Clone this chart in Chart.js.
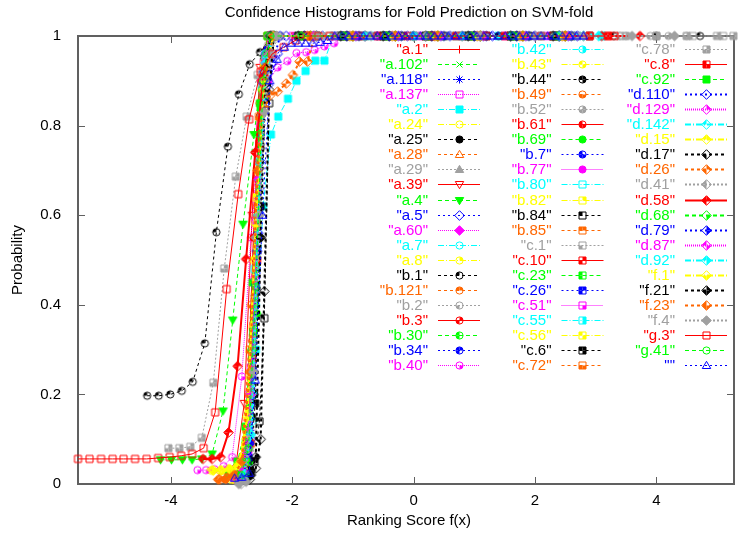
<!DOCTYPE html>
<html>
<head>
<meta charset="utf-8">
<script src="https://cdn.jsdelivr.net/npm/chart.js@4.4.1/dist/chart.umd.min.js"></script>
<style>
html, body { margin: 0; padding: 0; background: #fff; }
#wrap { width: 740px; height: 537px; }
</style>
</head>
<body>
<div id="wrap"><canvas id="chart" width="740" height="537"></canvas></div>
<script>
const names = ['a.1','a.102','a.118','a.137','a.2','a.24','a.25','a.28','a.29','a.39','a.4','a.5','a.60','a.7','a.8','b.1','b.121','b.2','b.3','b.30','b.34','b.40',
  'b.42','b.43','b.44','b.49','b.52','b.61','b.69','b.7','b.77','b.80','b.82','b.84','b.85','c.1','c.10','c.23','c.26','c.51','c.55','c.56','c.6','c.72',
  'c.78','c.8','c.92','d.110','d.129','d.142','d.15','d.17','d.26','d.41','d.58','d.68','d.79','d.87','d.92','f.1','f.21','f.23','f.4','g.3','g.41',''];

// ranking score bins per fold
const scoreX = [
  [-2.86,-2.74,-2.62,-2.50,-2.38,-1.9,-1.2,-0.5,0.2,0.9,1.6,2.3],
  [-2.92,-2.80,-2.68,-2.56,-2.44,-2.32,-1.7,-1.0,-0.3,0.4,1.1,1.8,2.5],
  [-2.80,-2.69,-2.58,-2.47,-2.36,-1.8,-1.2,-0.6,0.0,0.6,1.2,1.8,2.4],
  [-2.95,-2.83,-2.71,-2.59,-2.47,-2.35,-2.0,-1.3,-0.6,0.1,0.8,1.5,2.2],
  [-2.85,-2.72,-2.60,-2.48,-2.35,-2.23,-2.07,-1.93,-1.78,-1.62,-1.47,-1.32,-0.7,0.0,0.7,1.4,2.1,2.7,3.1],
  [-2.90,-2.78,-2.66,-2.54,-2.42,-2.30,-1.6,-0.9,-0.2,0.5,1.2,1.9,2.6],
  [-2.76,-2.66,-2.56,-2.46,-2.36,-1.75,-1.05,-0.35,0.35,1.05,1.75,2.45],
  [-3.00,-2.87,-2.74,-2.61,-2.48,-2.35,-1.65,-0.95,-0.25,0.45,1.15,1.85,2.55],
  [-2.82,-2.70,-2.58,-2.46,-2.34,-1.85,-1.15,-0.45,0.25,0.95,1.65,2.35],
  [-3.05,-2.92,-2.79,-2.66,-2.53,-2.40,-1.95,-1.25,-0.55,0.15,0.85,1.55,2.25],
  [-4.17,-3.99,-3.81,-3.65,-3.49,-3.32,-3.14,-2.98,-2.81,-2.63,-2.46,-2.29,-1.6,-0.9,-0.2,0.5,1.2,1.9,2.6],
  [-2.88,-2.76,-2.64,-2.52,-2.40,-2.24,-2.10,-1.5,-0.8,-0.1,0.6,1.3,2.0,2.7],
  [-2.84,-2.72,-2.60,-2.48,-2.36,-1.7,-1.0,-0.3,0.4,1.1,1.8,2.5],
  [-2.92,-2.80,-2.68,-2.56,-2.44,-2.32,-1.9,-1.2,-0.5,0.2,0.9,1.6,2.3],
  [-3.35,-3.20,-3.05,-2.90,-2.75,-2.60,-2.45,-2.30,-1.6,-0.9,-0.2,0.5,1.2,1.9,2.6],
  [-4.39,-4.20,-4.01,-3.82,-3.64,-3.44,-3.25,-3.06,-2.88,-2.70,-2.53,-2.34,-1.6,-0.6,0.4,1.4,2.4,3.3,4.0,4.72],
  [-2.95,-2.83,-2.71,-2.59,-2.47,-2.35,-1.8,-1.1,-0.4,0.3,1.0,1.7,2.4],
  [-2.80,-2.68,-2.56,-2.44,-2.32,-1.7,-0.8,0.1,1.0,1.9,2.8,3.4,3.9,4.5],
  [-2.90,-2.78,-2.66,-2.54,-2.42,-2.30,-1.65,-0.95,-0.25,0.45,1.15,1.85,2.55],
  [-2.86,-2.74,-2.62,-2.50,-2.38,-1.75,-1.05,-0.35,0.35,1.05,1.75,2.45],
  [-2.78,-2.67,-2.56,-2.45,-2.34,-1.9,-1.2,-0.5,0.2,0.9,1.6,2.3],
  [-3.56,-3.42,-3.28,-3.13,-2.99,-2.83,-2.68,-2.53,-2.39,-2.24,-2.08,-1.93,-1.77,-1.63,-1.47,-1.31,-1.16,-0.4,0.4,1.2,2.0,2.7],
  [-2.84,-2.72,-2.60,-2.48,-2.36,-1.8,-1.1,-0.4,0.3,1.0,1.7,2.4],
  [-3.00,-2.88,-2.76,-2.64,-2.52,-2.40,-1.85,-1.15,-0.45,0.25,0.95,1.65,2.35],
  [-2.72,-2.62,-2.52,-2.42,-2.32,-1.7,-1.0,-0.3,0.4,1.1,1.8,2.5],
  [-3.10,-2.96,-2.82,-2.68,-2.54,-2.40,-1.9,-1.2,-0.5,0.2,0.9,1.6,2.3],
  [-2.76,-2.64,-2.52,-2.40,-2.28,-1.5,-0.6,0.3,1.2,2.1,2.9,3.5,4.2],
  [-2.88,-2.76,-2.64,-2.52,-2.40,-1.75,-1.05,-0.35,0.35,1.05,1.75,2.45],
  [-2.82,-2.70,-2.58,-2.46,-2.34,-1.65,-0.95,-0.25,0.45,1.15,1.85,2.55],
  [-2.74,-2.63,-2.52,-2.41,-2.30,-1.8,-1.1,-0.4,0.3,1.0,1.7,2.4],
  [-2.96,-2.84,-2.72,-2.60,-2.48,-2.36,-1.95,-1.25,-0.55,0.15,0.85,1.55,2.25],
  [-2.86,-2.74,-2.62,-2.50,-2.38,-1.7,-1.0,-0.3,0.4,1.1,1.8,2.5],
  [-2.94,-2.82,-2.70,-2.58,-2.46,-2.34,-1.85,-1.15,-0.45,0.25,0.95,1.65,2.35],
  [-2.72,-2.62,-2.54,-2.46,-2.38,-2.30,-1.6,-0.9,-0.2,0.5,1.2,1.9,2.6],
  [-2.80,-2.68,-2.56,-2.44,-2.32,-1.75,-1.05,-0.35,0.35,1.05,1.75,2.45],
  [-2.78,-2.66,-2.54,-2.42,-2.30,-1.4,-0.4,0.6,1.6,2.6,3.4,4.0,4.6,5.1],
  [-2.90,-2.78,-2.66,-2.54,-2.42,-2.30,-1.6,-0.8,0.0,0.8,1.6,2.4,2.9,3.2],
  [-3.05,-2.90,-2.77,-2.65,-2.53,-2.41,-1.9,-1.2,-0.5,0.2,0.9,1.6,2.3],
  [-2.84,-2.72,-2.60,-2.48,-2.36,-1.85,-1.15,-0.45,0.25,0.95,1.65,2.35],
  [-2.92,-2.80,-2.68,-2.56,-2.44,-2.32,-1.7,-1.0,-0.3,0.4,1.1,1.8,2.5],
  [-2.76,-2.65,-2.54,-2.43,-2.32,-1.6,-0.8,0.0,0.8,1.6,2.4,2.9,3.1],
  [-2.98,-2.85,-2.72,-2.59,-2.46,-2.33,-1.75,-1.05,-0.35,0.35,1.05,1.75,2.45],
  [-2.70,-2.61,-2.52,-2.43,-2.34,-1.9,-1.2,-0.5,0.2,0.9,1.6,2.3],
  [-3.15,-3.00,-2.85,-2.70,-2.55,-2.40,-1.8,-1.1,-0.4,0.3,1.0,1.7,2.4],
  [-4.04,-3.86,-3.68,-3.49,-3.30,-3.12,-2.93,-2.75,-2.57,-2.38,-2.20,-1.3,-0.3,0.7,1.7,2.7,3.5,4.0,4.5,5.0,5.27],
  [-2.82,-2.70,-2.58,-2.46,-2.34,-1.7,-0.9,-0.1,0.7,1.5,2.3,2.9,3.2],
  [-2.88,-2.76,-2.64,-2.52,-2.40,-1.8,-1.1,-0.4,0.3,1.0,1.7,2.4],
  [-2.80,-2.68,-2.56,-2.44,-2.32,-2.20,-1.6,-0.9,-0.2,0.5,1.2,1.9,2.6],
  [-2.86,-2.74,-2.62,-2.50,-2.38,-1.75,-1.05,-0.35,0.35,1.05,1.75,2.45],
  [-2.78,-2.66,-2.54,-2.42,-2.30,-1.65,-0.95,-0.25,0.45,1.15,1.85,2.55],
  [-3.32,-3.18,-3.04,-2.90,-2.76,-2.62,-2.48,-2.34,-1.7,-1.0,-0.3,0.4,1.1,1.8,2.5],
  [-2.70,-2.60,-2.52,-2.46,-2.38,-2.30,-1.8,-1.1,-0.4,0.3,1.0,1.7,2.4],
  [-3.19,-3.07,-2.95,-2.83,-2.70,-2.58,-2.46,-2.36,-2.24,-2.10,-1.99,-1.88,-1.75,-1.63,-1.0,-0.3,0.4,1.1,1.8,2.5],
  [-2.84,-2.72,-2.60,-2.48,-2.36,-1.9,-1.2,-0.5,0.2,0.9,1.6,2.3],
  [-3.47,-3.32,-3.18,-3.05,-2.90,-2.76,-2.61,-2.47,-2.33,-1.6,-0.8,0.0,0.8,1.6,2.4,3.1,3.73],
  [-2.90,-2.78,-2.66,-2.54,-2.42,-2.30,-1.7,-1.0,-0.3,0.4,1.1,1.8,2.5],
  [-2.82,-2.70,-2.58,-2.46,-2.34,-1.8,-1.1,-0.4,0.3,1.0,1.7,2.4],
  [-2.92,-2.80,-2.68,-2.56,-2.44,-2.32,-1.65,-0.95,-0.25,0.45,1.15,1.85,2.55],
  [-2.80,-2.68,-2.56,-2.44,-2.32,-1.6,-0.8,0.0,0.8,1.6,2.4,2.8,3.05],
  [-3.30,-3.16,-3.02,-2.88,-2.74,-2.60,-2.46,-2.32,-1.75,-1.05,-0.35,0.35,1.05,1.75,2.45],
  [-2.68,-2.60,-2.52,-2.44,-2.36,-1.9,-1.2,-0.5,0.2,0.9,1.6,2.3],
  [-3.22,-3.09,-2.96,-2.83,-2.70,-2.57,-2.44,-2.31,-1.7,-1.0,-0.3,0.4,1.1,1.8,2.5],
  [-2.88,-2.76,-2.64,-2.54,-2.46,-2.36,-2.26,-1.6,-0.7,0.2,1.1,2.0,2.8,3.6,4.3],
  [-5.53,-5.34,-5.15,-4.96,-4.78,-4.59,-4.40,-4.21,-4.02,-3.83,-3.65,-3.46,-3.27,-3.08,-2.89,-2.71,-2.52,-2.33,-2.14,-1.95,-1.76,-1.57,-1.38,-0.6,0.3,1.2,2.1,2.9,3.31],
  [-2.84,-2.72,-2.60,-2.48,-2.36,-1.85,-1.15,-0.45,0.25,0.95,1.65,2.35],
  [-2.95,-2.83,-2.71,-2.61,-2.49,-2.37,-2.25,-2.13,-2.02,-1.90,-1.78,-1.66,-1.54,-1.42,-1.30,-1.18,-1.07,-0.95,-0.83,-0.72,-0.60,-0.48,-0.36,-0.25,
   -0.13,-0.01,0.11,0.22,0.34,0.46,0.57,0.69,0.81,0.93,1.04,1.16,1.28,1.39,1.51,1.63,1.75,1.86,1.98,2.10,2.21,2.33,2.45,2.57,2.68,2.80]
];

// cumulative probability at each bin
const probY = [
  [.01,.05,.42,.90,1,1,1,1,1,1,1,1],
  [.02,.06,.25,.72,.95,1,1,1,1,1,1,1,1],
  [.01,.12,.60,.93,1,1,1,1,1,1,1,1,1],
  [.02,.04,.20,.66,.94,1,1,1,1,1,1,1,1],
  [.01,.05,.30,.62,.78,.82,.86,.90,.922,.945,.945,1,1,1,1,1,1,1,1],
  [.02,.08,.35,.78,.96,1,1,1,1,1,1,1,1],
  [.01,.15,.68,.95,1,1,1,1,1,1,1,1],
  [.02,.03,.10,.55,.92,1,1,1,1,1,1,1,1],
  [.01,.08,.52,.91,1,1,1,1,1,1,1,1],
  [.03,.05,.18,.60,.93,1,1,1,1,1,1,1,1],
  [.054,.054,.054,.054,.056,.067,.163,.366,.58,.78,.95,1,1,1,1,1,1,1,1],
  [.01,.04,.30,.72,.89,.96,1,1,1,1,1,1,1,1],
  [.02,.10,.50,.90,1,1,1,1,1,1,1,1],
  [.01,.03,.22,.70,.95,1,1,1,1,1,1,1,1],
  [.03,.03,.035,.04,.12,.55,.90,1,1,1,1,1,1,1,1],
  [.197,.197,.2,.208,.228,.314,.562,.753,.870,.937,.964,1,1,1,1,1,1,1,1,1],
  [.01,.02,.15,.62,.93,1,1,1,1,1,1,1,1],
  [.02,.10,.58,.94,1,1,1,1,1,1,1,1,1,1],
  [.02,.06,.32,.82,.97,1,1,1,1,1,1,1,1],
  [.01,.07,.45,.88,1,1,1,1,1,1,1,1],
  [.02,.18,.70,.96,1,1,1,1,1,1,1,1],
  [.031,.031,.033,.04,.06,.24,.55,.80,.90,.93,.944,.962,.964,.969,.977,.984,1,1,1,1,1,1],
  [.01,.06,.40,.87,1,1,1,1,1,1,1,1],
  [.03,.04,.12,.50,.90,1,1,1,1,1,1,1,1],
  [.02,.20,.75,.97,1,1,1,1,1,1,1,1],
  [.01,.02,.06,.40,.85,1,1,1,1,1,1,1,1],
  [.03,.30,.82,.98,1,1,1,1,1,1,1,1,1],
  [.02,.10,.55,.90,1,1,1,1,1,1,1,1],
  [.01,.05,.38,.86,1,1,1,1,1,1,1,1],
  [.03,.25,.78,.97,1,1,1,1,1,1,1,1],
  [.01,.03,.14,.58,.92,1,1,1,1,1,1,1,1],
  [.02,.08,.48,.89,1,1,1,1,1,1,1,1],
  [.01,.04,.24,.70,.94,1,1,1,1,1,1,1,1],
  [.02,.05,.14,.37,.85,1,1,1,1,1,1,1,1],
  [.01,.09,.62,.95,1,1,1,1,1,1,1,1],
  [.02,.12,.66,.96,1,1,1,1,1,1,1,1,1,1],
  [.01,.04,.28,.76,.95,1,1,1,1,1,1,1,1,1],
  [.02,.05,.128,.45,.85,1,1,1,1,1,1,1,1],
  [.01,.06,.44,.90,1,1,1,1,1,1,1,1],
  [.02,.05,.26,.74,.95,1,1,1,1,1,1,1,1],
  [.02,.20,.72,.96,1,1,1,1,1,1,1,1,1],
  [.01,.03,.16,.64,.93,1,1,1,1,1,1,1,1],
  [.03,.18,.62,.93,1,1,1,1,1,1,1,1],
  [.015,.02,.05,.30,.82,1,1,1,1,1,1,1,1],
  [.08,.08,.083,.103,.226,.481,.686,.82,.913,.96,1,1,1,1,1,1,1,1,1,1,1],
  [.02,.09,.50,.91,1,1,1,1,1,1,1,1,1],
  [.01,.05,.34,.84,1,1,1,1,1,1,1,1],
  [.02,.10,.56,.85,.94,1,1,1,1,1,1,1,1],
  [.01,.07,.46,.90,1,1,1,1,1,1,1,1],
  [.02,.14,.68,.95,1,1,1,1,1,1,1,1],
  [.031,.031,.033,.04,.10,.50,.88,1,1,1,1,1,1,1,1],
  [.01,.035,.10,.43,.88,1,1,1,1,1,1,1,1],
  [.01,.015,.02,.04,.20,.60,.84,.868,.876,.894,.913,.943,.943,1,1,1,1,1,1,1],
  [0,.08,.55,.92,1,1,1,1,1,1,1,1],
  [.056,.056,.06,.115,.263,.502,.74,.91,1,1,1,1,1,1,1,1,1],
  [.02,.05,.30,.78,.96,1,1,1,1,1,1,1,1],
  [.01,.09,.52,.92,1,1,1,1,1,1,1,1],
  [.01,.03,.20,.68,.94,1,1,1,1,1,1,1,1],
  [.02,.11,.60,.94,1,1,1,1,1,1,1,1,1],
  [.03,.03,.032,.045,.15,.58,.90,1,1,1,1,1,1,1,1],
  [.02,.06,.55,.93,1,1,1,1,1,1,1,1],
  [.01,.012,.02,.05,.25,.70,.93,1,1,1,1,1,1,1,1],
  [0,.005,.25,.60,.83,.96,1,1,1,1,1,1,1,1,1],
  [.056,.056,.056,.056,.056,.056,.056,.058,.060,.063,.067,.080,.160,.435,.647,.814,.920,.96,.975,.99,1,1,1,1,1,1,1,1,1],
  [.02,.08,.44,.90,1,1,1,1,1,1,1,1],
  [.013,.015,.024,.232,.60,.90,.948,.975,.984,.984,.984,.984,.986,.99,1,1,1,1,1,1,1,1,1,1,
   1,1,1,1,1,1,1,1,1,1,1,1,1,1,1,1,1,1,1,1,1,1,1,1,1,1]
];

const xTicks = [-4, -2, 0, 2, 4];
const yTicks = [0, 0.2, 0.4, 0.6, 0.8, 1];
const xMin = -5.53, xMax = 5.28;

const FONT = "'Liberation Sans', Arial, sans-serif";
const lineColors = ['#ff0000','#00ff00','#0000ff','#ff00ff','#00ffff','#ffff00','#000000','#ff6600','#a0a0a0'];
const dashPatterns = [[], [4,3], [2,3], [1,1], [6,2,1,2], [6,2,1,2], [3,3], [3,3], [2,2]];

function markerSpec(i) {
  const basic = [['plus'],['cross'],['star'],['square',0],['square',15],['circle',0],['circle',15],
    ['tri',0],['tri',15],['itri',0],['itri',15],['diamond',0],['diamond',15]];
  if (i < 13) return basic[i];
  if (i <= 30) return ['circle', [0,1,2,3,4,5,6,7,8,9,10,11,12,13,14,15,14,15][i - 13]];
  if (i <= 46) return ['square', i - 31];
  if (i <= 62) return ['diamond', i - 47];
  return [['square',0],['circle',0],['tri',0]][i - 63];
}

function shapePath(g, shape, c) {
  g.beginPath();
  if (shape === 'square') g.rect(c - 3.5, c - 3.5, 7, 7);
  else if (shape === 'circle') g.arc(c, c, 3.6, 0, Math.PI * 2);
  else if (shape === 'diamond') { g.moveTo(c, c - 4.8); g.lineTo(c + 4.8, c); g.lineTo(c, c + 4.8); g.lineTo(c - 4.8, c); g.closePath(); }
  else if (shape === 'tri') { g.moveTo(c, c - 4.2); g.lineTo(c + 4.2, c + 3); g.lineTo(c - 4.2, c + 3); g.closePath(); }
  else if (shape === 'itri') { g.moveTo(c, c + 4.2); g.lineTo(c + 4.2, c - 3); g.lineTo(c - 4.2, c - 3); g.closePath(); }
}

function makeMarker(i) {
  const [shape, bits] = markerSpec(i);
  const color = lineColors[i % 9];
  const cv = document.createElement('canvas');
  cv.width = 13; cv.height = 13;
  const g = cv.getContext('2d');
  const c = 6.5;
  g.strokeStyle = color; g.fillStyle = color; g.lineWidth = 1;
  if (shape === 'plus' || shape === 'cross' || shape === 'star') {
    g.beginPath();
    if (shape !== 'cross') { g.moveTo(c - 4, c); g.lineTo(c + 4, c); g.moveTo(c, c - 4); g.lineTo(c, c + 4); }
    if (shape !== 'plus') { g.moveTo(c - 3, c - 3); g.lineTo(c + 3, c + 3); g.moveTo(c + 3, c - 3); g.lineTo(c - 3, c + 3); }
    g.stroke();
    return cv;
  }
  if (bits === 15) {
    shapePath(g, shape, c); g.fill(); g.stroke();
  } else {
    if (bits) {
      g.save(); shapePath(g, shape, c); g.clip();
      const r = 5;
      if (bits & 1) g.fillRect(c, c - r, r, r);
      if (bits & 2) g.fillRect(c - r, c - r, r, r);
      if (bits & 4) g.fillRect(c - r, c, r, r);
      if (bits & 8) g.fillRect(c, c, r, r);
      g.restore();
    }
    shapePath(g, shape, c); g.stroke();
  }
  return cv;
}

const markers = names.map((n, i) => makeMarker(i));
const lineWidth = i => (i >= 47 && i <= 62) ? 2 : 1;

const datasets = names.map((name, i) => ({
  label: name,
  data: scoreX[i].map((x, k) => ({ x: x, y: probY[i][k] })),
  showLine: true,
  borderColor: lineColors[i % 9],
  backgroundColor: lineColors[i % 9],
  borderWidth: lineWidth(i),
  borderDash: dashPatterns[i % 9],
  pointStyle: markers[i],
  pointRadius: 4,
  pointHoverRadius: 4,
  tension: 0,
  clip: false,
  order: names.length - i
}));

const framePlugin = {
  id: 'frame',
  beforeDatasetsDraw(chart) {
    const { ctx, chartArea: a, scales } = chart;
    ctx.save();
    ctx.strokeStyle = '#606060';
    ctx.lineWidth = 2;
    ctx.strokeRect(a.left, a.top, a.right - a.left, a.bottom - a.top);
    ctx.lineWidth = 1;
    ctx.beginPath();
    xTicks.forEach(v => {
      const px = Math.round(scales.x.getPixelForValue(v)) + 0.5;
      ctx.moveTo(px, a.bottom); ctx.lineTo(px, a.bottom - 7);
      ctx.moveTo(px, a.top); ctx.lineTo(px, a.top + 7);
    });
    yTicks.forEach(v => {
      const py = Math.round(scales.y.getPixelForValue(v)) + 0.5;
      ctx.moveTo(a.left, py); ctx.lineTo(a.left + 7, py);
      ctx.moveTo(a.right, py); ctx.lineTo(a.right - 7, py);
    });
    ctx.stroke();
    ctx.restore();
  },
  afterDatasetsDraw(chart) {
    const ctx = chart.ctx;
    ctx.save();
    ctx.font = '15px ' + FONT;
    ctx.textBaseline = 'middle';
    ctx.textAlign = 'right';
    const colRight = [428, 551.5, 675];
    names.forEach((name, i) => {
      const col = Math.floor(i / 22), row = i % 22;
      const y = Math.round(49 + row * 15.05) + 0.5;
      const tx = colRight[col];
      const color = lineColors[i % 9];
      ctx.fillStyle = color;
      ctx.fillText('"' + name + '"', tx, y);
      ctx.strokeStyle = color;
      ctx.lineWidth = lineWidth(i);
      ctx.setLineDash(dashPatterns[i % 9]);
      ctx.beginPath();
      ctx.moveTo(tx + 10, y); ctx.lineTo(tx + 52, y);
      ctx.stroke();
      ctx.setLineDash([]);
      const m = markers[i];
      ctx.drawImage(m, Math.round(tx + 31 - m.width / 2), Math.round(y - m.height / 2));
    });
    ctx.restore();
  },
  afterDraw(chart) {
    const ctx = chart.ctx;
    ctx.save();
    ctx.fillStyle = '#000';
    ctx.font = '15px ' + FONT;
    ctx.textAlign = 'center';
    ctx.textBaseline = 'middle';
    ctx.fillText('Confidence Histograms for Fold Prediction on SVM-fold', 409, 13);
    ctx.fillText('Ranking Score f(x)', 409, 521);
    ctx.translate(18, 260);
    ctx.rotate(-Math.PI / 2);
    ctx.fillText('Probability', 0, 0);
    ctx.restore();
  }
};

new Chart(document.getElementById('chart'), {
  type: 'scatter',
  data: { datasets: datasets },
  options: {
    responsive: false,
    animation: false,
    devicePixelRatio: 1,
    events: [],
    layout: { padding: { top: 36, right: 0, left: 0, bottom: 0 } },
    plugins: { legend: { display: false }, tooltip: { enabled: false }, title: { display: false } },
    scales: {
      x: {
        type: 'linear', min: xMin, max: xMax,
        grid: { display: false }, border: { display: false },
        afterBuildTicks: s => { s.ticks = xTicks.map(v => ({ value: v })); },
        afterFit: s => { s.height = 53; },
        ticks: { font: { family: FONT, size: 15 }, color: '#000', padding: 0, maxRotation: 0, autoSkip: false, callback: v => String(v) }
      },
      y: {
        type: 'linear', min: 0, max: 1,
        grid: { display: false }, border: { display: false },
        afterBuildTicks: s => { s.ticks = yTicks.map(v => ({ value: v })); },
        afterFit: s => { s.width = 78; },
        ticks: { font: { family: FONT, size: 15 }, color: '#000', padding: 9, callback: v => String(v) }
      }
    }
  },
  plugins: [framePlugin]
});
</script>
</body>
</html>
